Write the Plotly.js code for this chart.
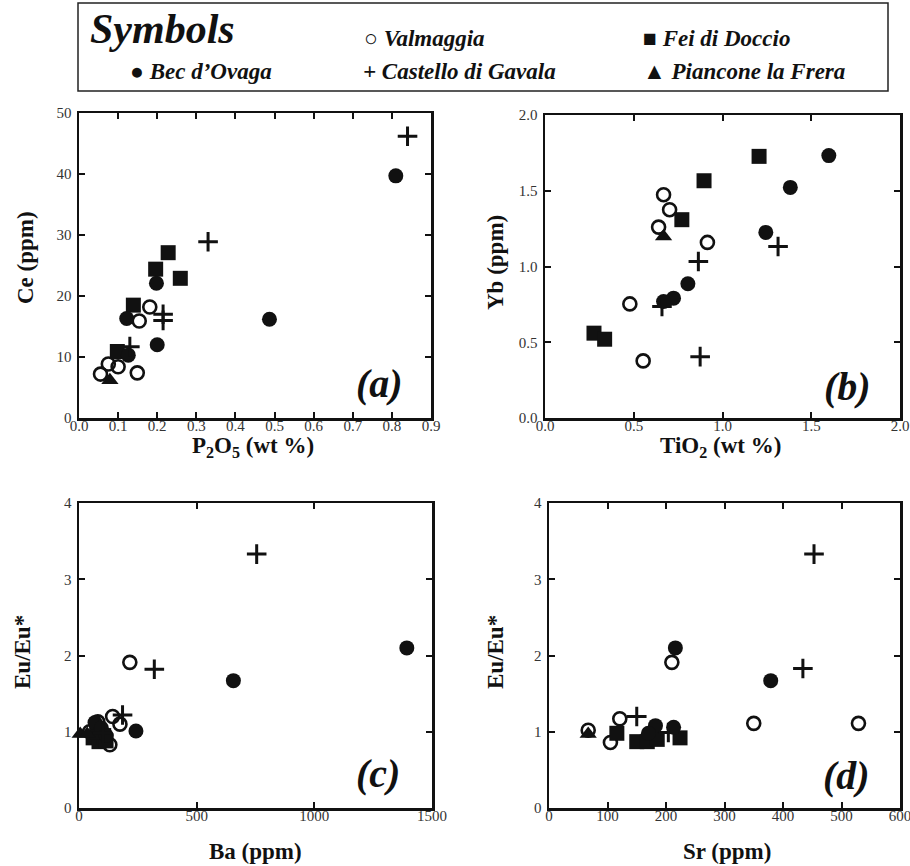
<!DOCTYPE html>
<html>
<head>
<meta charset="utf-8">
<script src="https://cdn.plot.ly/plotly-3.0.1.min.js"></script>
<style>html,body{margin:0;padding:0;background:#fff;}#chart{width:910px;height:866px;}</style>
</head>
<body>
<div id="chart"></div>
<script>
// ---- Group names ----
const groups = ["Bec d’Ovaga", "Valmaggia", "Fei di Doccio", "Castello di Gavala", "Piancone la Frera"];

// ---- Panel (a): P2O5 (wt %) vs Ce (ppm) ----
const a_bec_x = [0.810, 0.487, 0.198, 0.122, 0.200, 0.126];
const a_bec_y = [39.7, 16.2, 22.1, 16.3, 12.0, 10.3];
const a_val_x = [0.181, 0.154, 0.075, 0.100, 0.055, 0.149];
const a_val_y = [18.2, 15.9, 8.85, 8.4, 7.2, 7.4];
const a_fei_x = [0.228, 0.196, 0.259, 0.139, 0.098];
const a_fei_y = [27.1, 24.4, 22.9, 18.5, 10.9];
const a_cas_x = [0.840, 0.330, 0.215, 0.215, 0.130];
const a_cas_y = [46.2, 28.9, 17.0, 16.0, 11.7];
const a_pia_x = [0.079];
const a_pia_y = [6.2];

// ---- Panel (b): TiO2 (wt %) vs Yb (ppm) ----
const b_bec_x = [1.599, 1.382, 1.244, 0.805, 0.724, 0.668];
const b_bec_y = [1.732, 1.522, 1.225, 0.886, 0.791, 0.769];
const b_val_x = [0.668, 0.702, 0.640, 0.915, 0.478, 0.553];
const b_val_y = [1.474, 1.375, 1.260, 1.159, 0.753, 0.377];
const b_fei_x = [1.206, 0.896, 0.771, 0.276, 0.336];
const b_fei_y = [1.727, 1.566, 1.309, 0.560, 0.520];
const b_cas_x = [1.313, 0.864, 0.659, 0.874];
const b_cas_y = [1.132, 1.033, 0.736, 0.405];
const b_pia_x = [0.668];
const b_pia_y = [1.198];

// ---- Panel (c): Ba (ppm) vs Eu/Eu* ----
const c_bec_x = [1393, 656, 242, 68, 95, 115];
const c_bec_y = [2.10, 1.67, 1.01, 1.12, 1.05, 0.95];
const c_val_x = [216, 143, 174, 80, 131, 45];
const c_val_y = [1.91, 1.20, 1.10, 1.13, 0.83, 1.00];
const c_fei_x = [60, 85, 105, 115, 75];
const c_fei_y = [0.92, 0.87, 0.95, 0.88, 1.00];
const c_cas_x = [755, 320, 185, 100];
const c_cas_y = [3.33, 1.82, 1.22, 0.98];
const c_pia_x = [5, 35];
const c_pia_y = [0.97, 0.97];

// ---- Panel (d): Sr (ppm) vs Eu/Eu* ----
const d_bec_x = [216, 379, 182, 213, 170];
const d_bec_y = [2.10, 1.67, 1.08, 1.06, 0.98];
const d_val_x = [210, 350, 529, 121, 105, 67];
const d_val_y = [1.91, 1.11, 1.11, 1.17, 0.86, 1.02];
const d_fei_x = [116, 150, 168, 185, 224];
const d_fei_y = [0.98, 0.87, 0.87, 0.90, 0.92];
const d_cas_x = [453, 434, 150, 204];
const d_cas_y = [3.33, 1.83, 1.20, 0.99];
const d_pia_x = [67];
const d_pia_y = [0.97];

// ---- Axis settings ----
const xTitles = ["P<sub>2</sub>O<sub>5</sub> (wt %)", "TiO<sub>2</sub> (wt %)", "Ba (ppm)", "Sr (ppm)"];
const yTitles = ["Ce (ppm)", "Yb (ppm)", "Eu/Eu*", "Eu/Eu*"];
const panelLabels = ["(a)", "(b)", "(c)", "(d)"];

const W = 910, H = 866;
const SERIF = "Liberation Serif, Times New Roman, serif";

const styles = [
  {symbol: "circle", size: 15, color: "#111", line: {width: 0}},
  {symbol: "circle-open", size: 13, color: "#111", line: {width: 2.6, color: "#111"}},
  {symbol: "square", size: 15, color: "#111", line: {width: 0}},
  {symbol: "cross-thin-open", size: 14, color: "#111", line: {width: 3, color: "#111"}},
  {symbol: "triangle-up", size: 15, color: "#111", line: {width: 0}}
];

const panels = [
  {xs: [a_bec_x, a_val_x, a_fei_x, a_cas_x, a_pia_x], ys: [a_bec_y, a_val_y, a_fei_y, a_cas_y, a_pia_y]},
  {xs: [b_bec_x, b_val_x, b_fei_x, b_cas_x, b_pia_x], ys: [b_bec_y, b_val_y, b_fei_y, b_cas_y, b_pia_y]},
  {xs: [c_bec_x, c_val_x, c_fei_x, c_cas_x, c_pia_x], ys: [c_bec_y, c_val_y, c_fei_y, c_cas_y, c_pia_y]},
  {xs: [d_bec_x, d_val_x, d_fei_x, d_cas_x, d_pia_x], ys: [d_bec_y, d_val_y, d_fei_y, d_cas_y, d_pia_y]}
];

// pixel boxes for each panel [left, right, top, bottom]
const boxes = [[79, 431, 113, 418], [545, 900, 115, 418], [79, 432, 503, 808], [549, 900, 503, 808]];
const ranges = [
  {x: [0, 0.9], dx: 0.1, fx: ".1f", y: [0, 50], dy: 10, fy: "d"},
  {x: [0, 2.0], dx: 0.5, fx: ".1f", y: [0, 2.0], dy: 0.5, fy: ".1f"},
  {x: [0, 1500], dx: 500, fx: "d", y: [0, 4], dy: 1, fy: "d"},
  {x: [0, 600], dx: 100, fx: "d", y: [0, 4], dy: 1, fy: "d"}
];

const traces = [];
const drawOrder = [1, 2, 0, 4, 3];
panels.forEach((p, i) => {
  const xa = i === 0 ? "x" : "x" + (i + 1);
  const ya = i === 0 ? "y" : "y" + (i + 1);
  drawOrder.forEach(g => {
    const s = styles[g];
    traces.push({
      type: "scatter", mode: "markers", name: groups[g], showlegend: false,
      x: p.xs[g], y: p.ys[g], xaxis: xa, yaxis: ya, cliponaxis: false,
      marker: {symbol: s.symbol, size: s.size, color: s.color, line: s.line}
    });
  });
});

const layout = {
  width: W, height: H,
  margin: {l: 0, r: 0, t: 0, b: 0},
  paper_bgcolor: "#fff", plot_bgcolor: "#fff",
  showlegend: false,
  font: {family: SERIF, color: "#222"},
  annotations: [], shapes: []
};

boxes.forEach((b, i) => {
  const sfx = i === 0 ? "" : String(i + 1);
  const r = ranges[i];
  const common = {
    showline: true, mirror: "ticks", linecolor: "#111", linewidth: 2.5,
    ticks: "inside", ticklen: 6, tickwidth: 2, tickcolor: "#111",
    showgrid: false, zeroline: false, fixedrange: true,
    ticklabeloverflow: "allow",
    tickfont: {family: SERIF, size: 15, color: "#333"}
  };
  layout["xaxis" + sfx] = Object.assign({}, common, {
    domain: [b[0] / W, b[1] / W], range: r.x, dtick: r.dx, tick0: 0, tickformat: r.fx,
    anchor: "y" + sfx, ticklabelstandoff: -8
  });
  layout["yaxis" + sfx] = Object.assign({}, common, {
    domain: [1 - b[3] / H, 1 - b[2] / H], range: r.y, dtick: r.dy, tick0: 0, tickformat: r.fy,
    anchor: "x" + sfx, ticklabelstandoff: 2
  });
});

function ann(text, px, py, opts) {
  return Object.assign({
    text: text, xref: "paper", yref: "paper", x: px / W, y: 1 - py / H,
    showarrow: false, xanchor: "center", yanchor: "middle"
  }, opts || {});
}

const xTitlePos = [[253, 447], [720, 447], [255, 851], [727, 851]];
const yTitlePos = [[25, 258], [495, 262], [22, 652], [495, 652]];
const labelPos = [[379, 383], [847, 386], [378, 773], [846, 775]];
for (let i = 0; i < 4; i++) {
  layout.annotations.push(ann(xTitles[i], xTitlePos[i][0], xTitlePos[i][1],
    {font: {family: SERIF, size: 23, color: "#111", weight: "bold"}}));
  layout.annotations.push(ann(yTitles[i], yTitlePos[i][0], yTitlePos[i][1],
    {textangle: -90, font: {family: SERIF, size: 23, color: "#111", weight: "bold"}}));
  layout.annotations.push(ann(panelLabels[i], labelPos[i][0], labelPos[i][1],
    {font: {family: SERIF, size: 40, color: "#111", weight: "bold", style: "italic"}}));
}

// ---- Symbols box ----
layout.shapes.push({type: "rect", xref: "paper", yref: "paper",
  x0: 78 / W, x1: 888 / W, y0: 1 - 91 / H, y1: 1 - 3 / H,
  line: {color: "#222", width: 1.5}, fillcolor: "rgba(0,0,0,0)"});

const legendFont = {family: SERIF, size: 23, color: "#111", weight: "bold", style: "italic"};
layout.annotations.push(ann("Symbols", 88, 29, {xanchor: "left",
  font: {family: SERIF, size: 42, color: "#111", weight: "bold", style: "italic"}}));
const legendItems = [
  ["○ " + groups[1], 362, 39],
  ["■ " + groups[2], 641, 39],
  ["● " + groups[0], 128, 71],
  ["+ " + groups[3], 361, 71],
  ["▲ " + groups[4], 641, 71]
];
legendItems.forEach(it => layout.annotations.push(ann(it[0], it[1], it[2], {xanchor: "left", font: legendFont})));

Plotly.newPlot("chart", traces, layout, {staticPlot: true, displayModeBar: false});
</script>
</body>
</html>
